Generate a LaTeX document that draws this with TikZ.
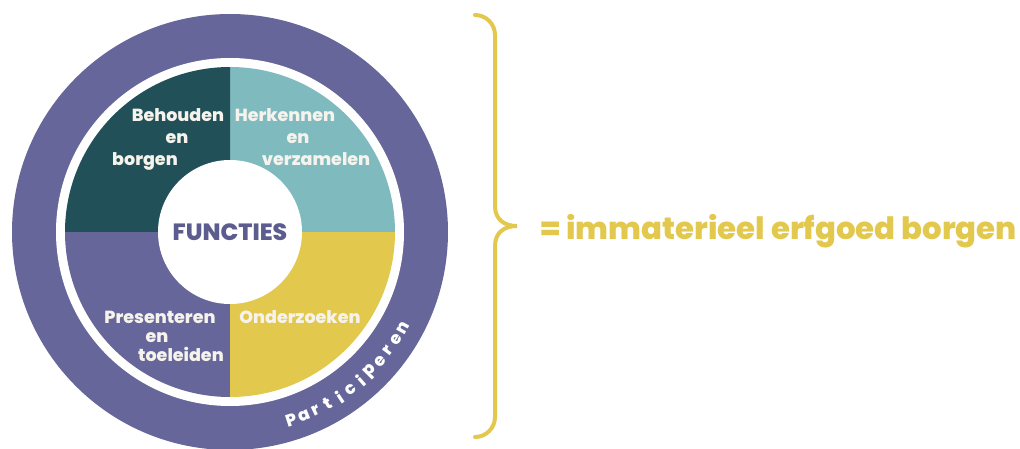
\documentclass[tikz,border=0pt]{standalone}
\usepackage{fontspec}
\setmainfont{Poppins}[BoldFont={Poppins ExtraBold}]
\usetikzlibrary{calc}
\definecolor{ringpurple}{RGB}{102,102,154}
\definecolor{darkteal}{RGB}{33,80,89}
\definecolor{lightteal}{RGB}{127,186,191}
\definecolor{ochre}{RGB}{227,200,78}
\definecolor{titlepurple}{RGB}{92,92,142}
\definecolor{offwhite}{RGB}{246,243,236}

\tikzset{
  quadlabel/.style={text=offwhite, anchor=base, inner sep=0pt,
    font=\bfseries\fontsize{17.5}{20}\selectfont},
  ringletter/.style={text=white, inner sep=0pt,
    font=\bfseries\fontsize{17}{17}\selectfont},
}

\begin{document}
\begin{tikzpicture}[x=1pt, y=1pt]
    \useasboundingbox (0,0) rectangle (1020,448);
    \coordinate (c) at (230,216);

    % Outer ring
    \fill[ringpurple] (c) circle[radius=218];
    \fill[white] (c) circle[radius=174];

    % Quadrants
    \foreach \a/\col in {0/lightteal, 90/darkteal, 180/ringpurple, 270/ochre}
      \fill[\col] (c) -- ++(\a:165) arc[start angle=\a, delta angle=90, radius=165] -- cycle;

    % Centre
    \node[circle, fill=white, minimum size=144, inner sep=0pt, text=titlepurple,
      font=\bfseries\fontsize{23.5}{23.5}\selectfont] (functies) at (c) {FUNCTIES};

    % Labels
    \node[quadlabel] (behouden) at (178,326) {Behouden};
    \node[quadlabel] (en1) at (177,304) {en};
    \node[quadlabel] (borgen) at (145,283) {borgen};
    \node[quadlabel] (herkennen) at (285,326) {Herkennen};
    \node[quadlabel] (en2) at (298,304) {en};
    \node[quadlabel] (verzamelen) at (316,283) {verzamelen};
    \node[quadlabel] (presenteren) at (160,125) {Presenteren};
    \node[quadlabel] (en3) at (157,106) {en};
    \node[quadlabel] (toeleiden) at (181,87) {toeleiden};
    \node[quadlabel] (onderzoeken) at (300,125) {Onderzoeken};

    % Participeren along the ring
    \foreach \ch [count=\i, evaluate=\i as \ang using -72+(\i-1)*3.9] in {P,a,r,t,i,c,i,p,e,r,e,n}
      \node[ringletter, rotate=\ang+90] (p\i) at ($(c)+(\ang:198)$) {\ch};

    % Brace
    \coordinate (bracetop) at (475,433);
    \coordinate (bracetip) at (517,222);
    \coordinate (bracebot) at (475,11);
    \draw[ochre, line width=4, line cap=round]
      (bracetop) arc[start angle=90, end angle=0, radius=20] -- (495,242)
      .. controls (495,228) and (505,222) .. (bracetip)
      .. controls (505,222) and (495,216) .. (495,202) -- (495,31)
      arc[start angle=0, end angle=-90, radius=20];

    \node[anchor=base west, inner sep=0pt, text=ochre,
      font=\bfseries\fontsize{30.8}{30.8}\selectfont] (borgen text) at (540,209)
      {= immaterieel erfgoed borgen};
\end{tikzpicture}
\end{document}
